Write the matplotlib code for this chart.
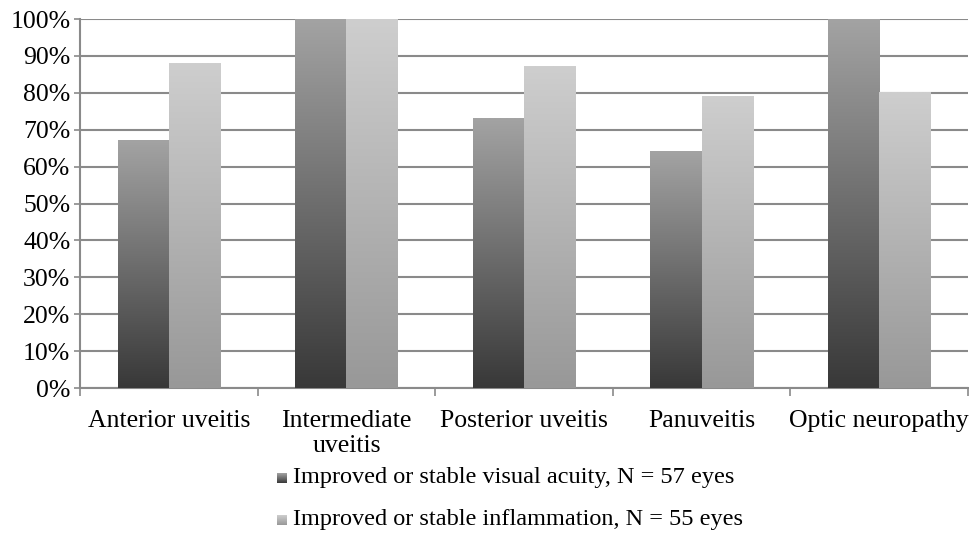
import matplotlib
matplotlib.use("Agg")
import matplotlib.pyplot as plt
import numpy as np
from matplotlib.colors import LinearSegmentedColormap
from matplotlib.ticker import FuncFormatter

categories = ["Anterior uveitis", "Intermediate\nuveitis", "Posterior uveitis", "Panuveitis", "Optic neuropathy"]
visual_acuity = [67, 100, 73, 64, 100]
inflammation = [88, 100, 87, 79, 80]
series_labels = ["Improved or stable visual acuity, N = 57 eyes",
                 "Improved or stable inflammation, N = 55 eyes"]

plt.rcParams['font.family'] = ['Liberation Serif', 'DejaVu Serif']

dark_cmap = LinearSegmentedColormap.from_list("dark", ["#383838", "#a3a3a3"])
light_cmap = LinearSegmentedColormap.from_list("light", ["#989898", "#cecece"])

fig = plt.figure(figsize=(9.69, 5.34), dpi=100)
ax = fig.add_axes([0.0826, 0.2734, 0.9164, 0.691])

n = len(categories)
x = np.arange(n)
w = 0.288
grad = np.linspace(0, 1, 256).reshape(-1, 1)

for i in range(n):
    for vals, off, cmap in ((visual_acuity, -w / 2, dark_cmap), (inflammation, w / 2, light_cmap)):
        h = vals[i]
        x0 = x[i] + off - w / 2
        ax.imshow(grad, extent=[x0, x0 + w, 0, h], origin='lower', aspect='auto',
                  cmap=cmap, zorder=3, interpolation='bilinear')

ax.set_xlim(-0.5, n - 0.5)
ax.set_ylim(0, 100)
ax.set_yticks(np.arange(0, 101, 10))
ax.yaxis.set_major_formatter(FuncFormatter(lambda v, p: f"{int(v)}%"))
ax.grid(axis='y', color='#8a8a8a', linewidth=1.5, zorder=0)
ax.set_axisbelow(True)
for s in ['top', 'right']:
    ax.spines[s].set_visible(False)
ax.spines['left'].set_color('#8a8a8a')
ax.spines['bottom'].set_color('#8a8a8a')
ax.spines['left'].set_linewidth(1.5)
ax.spines['bottom'].set_linewidth(1.5)

ax.set_xticks(x)
ax.set_xticklabels(categories, fontsize=18.5, linespacing=1.15)
ax.set_xticks(np.arange(-0.5, n, 1), minor=True)
ax.tick_params(axis='x', which='major', length=0, pad=16)
ax.tick_params(axis='x', which='minor', length=6, width=1.2, color='#8a8a8a')
ax.tick_params(axis='y', length=4, width=1.2, color='#8a8a8a', labelsize=18.5, pad=3)

# legend
leg_y = [1 - 478 / 534, 1 - 520 / 534]
for yy, cmap, lab in zip(leg_y, (dark_cmap, light_cmap), series_labels):
    sax = fig.add_axes([277 / 969, yy - 5 / 534, 10 / 969, 10 / 534])
    sax.imshow(grad, origin='lower', aspect='auto', cmap=cmap, extent=[0, 1, 0, 1])
    sax.set_axis_off()
    fig.text(293 / 969, yy, lab, fontsize=17.5, va='center', ha='left')

fig.savefig("out.png", dpi=100)
